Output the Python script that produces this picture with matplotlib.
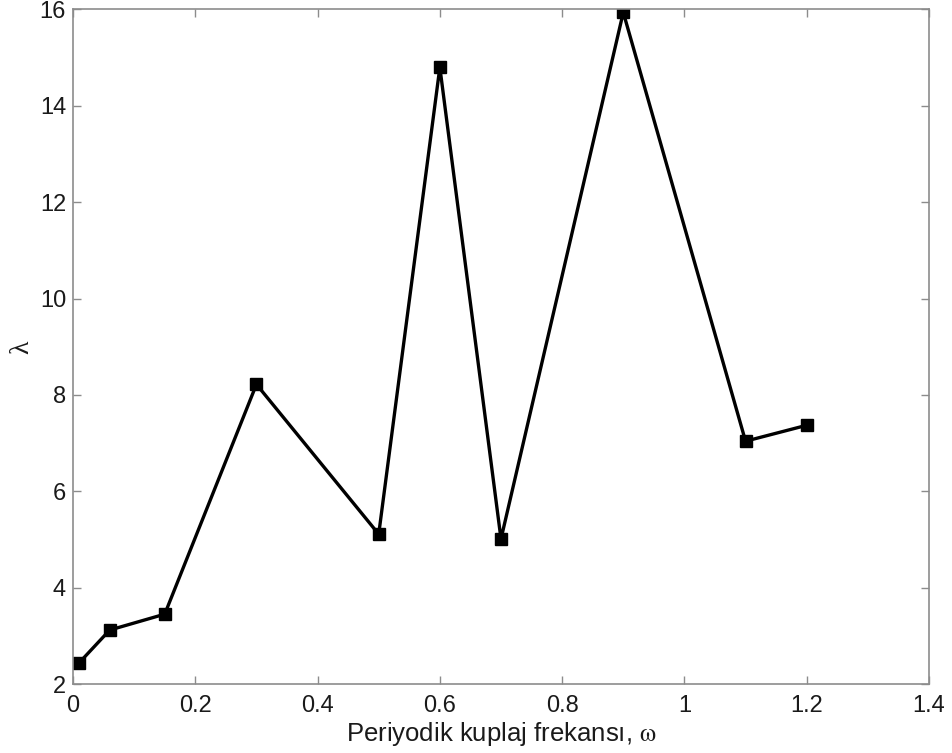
import matplotlib
matplotlib.use('Agg')
import matplotlib.pyplot as plt

# data
omega = [0.01, 0.06, 0.15, 0.3, 0.5, 0.6, 0.7, 0.9, 1.1, 1.2]
lam = [2.44, 3.12, 3.45, 8.22, 5.11, 14.8, 5.01, 15.94, 7.04, 7.37]

x_ticks = [0, 0.2, 0.4, 0.6, 0.8, 1, 1.2, 1.4]
x_ticklabels = ['0', '0.2', '0.4', '0.6', '0.8', '1', '1.2', '1.4']
y_ticks = [2, 4, 6, 8, 10, 12, 14, 16]

plt.rcParams['font.family'] = ['Liberation Sans', 'DejaVu Sans']
plt.rcParams['mathtext.fontset'] = 'stix'

fig = plt.figure(figsize=(9.52, 7.53), dpi=100)
ax = fig.add_axes([0.0767, 0.0916, 0.8991, 0.8958])

ax.plot(omega, lam, color='black', linewidth=2.4, marker='s', markersize=8.5)

ax.set_xlim(0, 1.4)
ax.set_ylim(2, 16)
ax.set_xticks(x_ticks)
ax.set_xticklabels(x_ticklabels)
ax.set_yticks(y_ticks)

for s in ax.spines.values():
    s.set_color('#8c8c8c')
    s.set_linewidth(1.2)
ax.tick_params(direction='in', length=6, width=1, color='#8c8c8c',
               top=True, right=True, labelsize=17, labelcolor='#1a1a1a')
ax.tick_params(axis='x', pad=8)
ax.tick_params(axis='y', pad=5)

ax.set_xlabel('Periyodik kuplaj frekansı, $\\mathrm{\\omega}$', fontsize=18.5,
              color='#1a1a1a', labelpad=2)
ax.set_ylabel('λ', fontsize=20, family='Liberation Serif', color='#1a1a1a', labelpad=4)

fig.savefig('out.png', dpi=100)
